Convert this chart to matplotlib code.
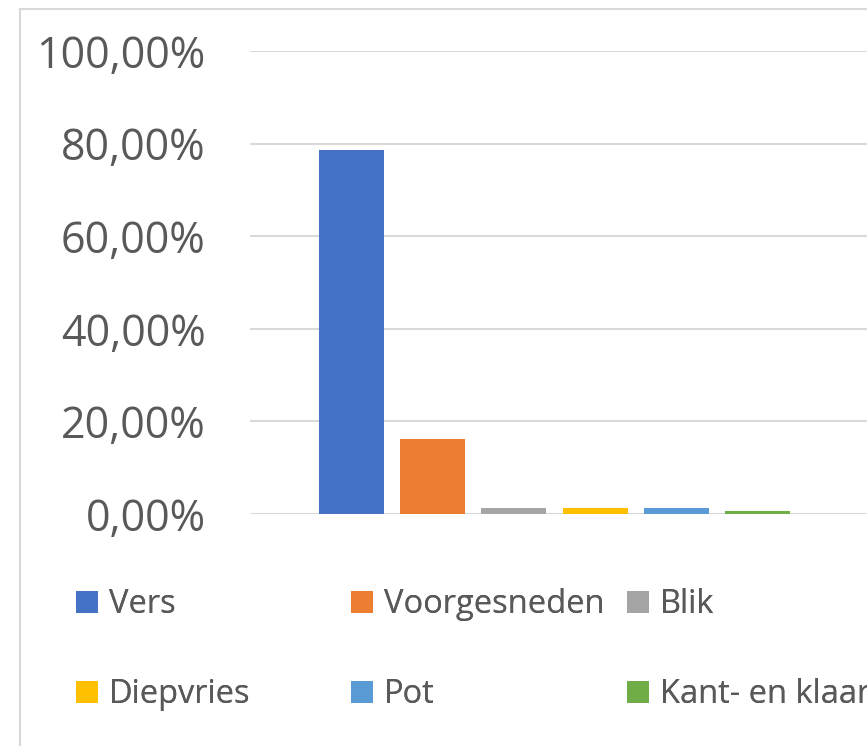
import matplotlib
matplotlib.use("Agg")
import matplotlib.pyplot as plt
from matplotlib.patches import Rectangle, Patch
from matplotlib.ticker import FuncFormatter

# Data
categories = ["Vers", "Voorgesneden", "Blik", "Diepvries", "Pot", "Kant- en klaar"]
values = [0.786, 0.162, 0.014, 0.014, 0.014, 0.007]
colors = ["#4472C4", "#ED7D31", "#A5A5A5", "#FFC000", "#5B9BD5", "#70AD47"]
yticks = [0, 0.2, 0.4, 0.6, 0.8, 1.0]

plt.rcParams['font.family'] = ['Open Sans', 'DejaVu Sans']
W, H = 867, 746
fig = plt.figure(figsize=(W / 100, H / 100), dpi=100)

# chart frame (cut off at right/bottom)
fig.patches.append(Rectangle((20 / W, -0.1), 1.2, 1 - 9 / H + 0.1, transform=fig.transFigure,
                             fill=False, edgecolor="#d9d9d9", lw=1.5))

ax = fig.add_axes([250 / W, 1 - 514 / H, (W - 250) / W + 0.01, (514 - 51) / H])
x = list(range(len(categories)))
ax.bar(x, values, width=0.8, color=colors, zorder=3)
ax.set_xlim(-1.247, 6.45)
ax.set_ylim(0, 1.0)
ax.set_yticks(yticks)
ax.yaxis.set_major_formatter(FuncFormatter(lambda v, p: f"{v * 100:.2f}%".replace(".", ",")))
ax.tick_params(axis="y", length=0, pad=32, labelsize=31, labelcolor="#595959")
ax.set_xticks([])
ax.grid(axis="y", color="#d9d9d9", lw=1.5, zorder=0)
for s in ax.spines.values():
    s.set_visible(False)

# legend, three columns placed row-wise
handles = [Patch(facecolor=c) for c in colors]
col_x = [76, 351, 627]
for j in range(3):
    idx = [j, j + 3]
    leg = fig.legend([handles[i] for i in idx], [categories[i] for i in idx],
                     loc="upper left", bbox_to_anchor=(col_x[j] / W, 1 - 588 / H),
                     frameon=False, fontsize=23.5, labelcolor="#595959",
                     handlelength=0.66, handleheight=0.66, handletextpad=0.35,
                     labelspacing=1.75, borderaxespad=0, borderpad=0)
    fig.add_artist(leg)

fig.savefig("out.png", dpi=100)
